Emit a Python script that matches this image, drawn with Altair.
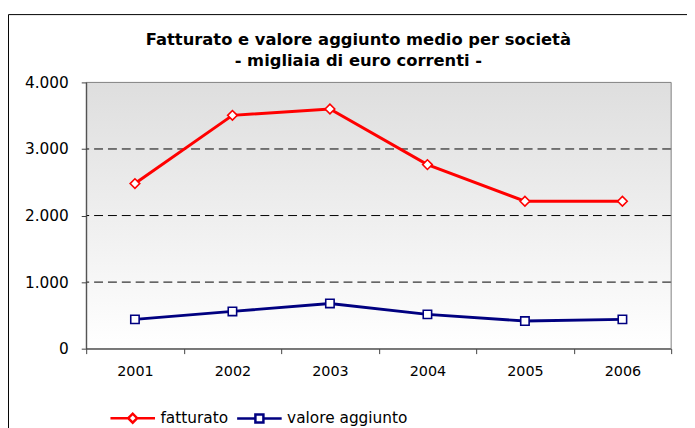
import altair as alt
import pandas as pd

# ---- data ----
years = ["2001", "2002", "2003", "2004", "2005", "2006"]
fatturato = [2480, 3505, 3600, 2765, 2215, 2215]
valore_aggiunto = [440, 560, 680, 515, 415, 440]
series_names = ["fatturato", "valore aggiunto"]
series_colors = ["#ff0000", "#000080"]
marker_shapes = ["diamond", "square"]
marker_sizes = [95, 72]
legend_shapes = [
    "M-1,0H-0.2M0.2,0H1M-0.2,0L0,-0.2L0.2,0L0,0.2Z",
    "M-1,0H-0.18M0.18,0H1M-0.18,-0.18H0.18V0.18H-0.18Z",
]
y_ticks = [0, 1000, 2000, 3000, 4000]
grid_values = [1000, 2000, 3000]
title_lines = ["Fatturato e valore aggiunto medio per società",
               "- migliaia di euro correnti -"]

rows = []
for name, vals in zip(series_names, [fatturato, valore_aggiunto]):
    for yr, v in zip(years, vals):
        rows.append({"anno": yr, "serie": name, "valore": v})
df = pd.DataFrame(rows)

FONT = "DejaVu Sans"
x_scale = alt.Scale(type="band", domain=years, paddingInner=0, paddingOuter=0)
y_scale = alt.Scale(domain=[0, 4000], nice=False)
color_scale = alt.Scale(domain=series_names, range=series_colors)

x_axis = alt.Axis(title=None, labelAngle=0, labelFont=FONT, labelFontSize=14.5,
                  labelColor="black", labelPadding=11, tickBand="extent",
                  tickSize=5, tickColor="#404040", domainColor="#404040",
                  grid=False, zindex=1)
y_axis = alt.Axis(title=None, values=y_ticks, labelFont=FONT, labelFontSize=15.5,
                  labelColor="black", labelPadding=13, tickSize=5,
                  tickColor="#404040", domainColor="#404040", grid=False,
                  labelExpr="replace(format(datum.value, ','), ',', '.')",
                  zindex=1)

one = alt.Data(values=[{"k": 1}])

bg = alt.Chart(one).mark_rect(
    fill=alt.Gradient(gradient="linear", x1=0, y1=0, x2=0, y2=1,
                      stops=[alt.GradientStop(color="#dedede", offset=0),
                             alt.GradientStop(color="#ffffff", offset=1)])
).encode(x=alt.value(0), x2=alt.value("width"), y=alt.value(0), y2=alt.value("height"))

border = alt.Chart(one).mark_rect(fill="transparent", stroke="#808080", strokeWidth=1).encode(
    x=alt.value(0), x2=alt.value("width"), y=alt.value(0), y2=alt.value("height"))

grid = alt.Chart(pd.DataFrame({"valore": grid_values})).mark_rule(
    color="black", strokeDash=[9, 5], strokeWidth=1
).encode(y=alt.Y("valore:Q", scale=y_scale, axis=y_axis))

base = alt.Chart(df)
xy = dict(x=alt.X("anno:O", scale=x_scale, axis=x_axis),
          y=alt.Y("valore:Q", scale=y_scale, axis=y_axis))

series_layers = []
for name, col in zip(series_names, series_colors):
    series_layers.append(
        base.transform_filter(alt.datum.serie == name)
        .mark_line(strokeWidth=3, color=col).encode(**xy))
for name, col, shp, sz in zip(series_names, series_colors, marker_shapes, marker_sizes):
    series_layers.append(
        base.transform_filter(alt.datum.serie == name)
        .mark_point(shape=shp, filled=False, fill="white", stroke=col,
                    size=sz, strokeWidth=1.6, opacity=1).encode(**xy))

leg_params = dict(orient="none", legendX=23, legendY=315, direction="horizontal",
                  title=None, symbolSize=2025, symbolStrokeWidth=2.5,
                  labelFont=FONT, labelFontSize=15.5, labelColor="black",
                  labelOffset=4, columnPadding=3, padding=0)

# legend-only layer: its marks sit below the visible range and are clipped away
legend_layer = base.transform_calculate(fuori="-1000").mark_point(
    filled=False, fill="white", strokeWidth=2.5, clip=True, opacity=1
).encode(
    x=alt.X("anno:O", scale=x_scale, axis=x_axis),
    y=alt.Y("fuori:Q", scale=y_scale, axis=y_axis),
    color=alt.Color("serie:N", scale=color_scale, legend=alt.Legend(**leg_params)),
    shape=alt.Shape("serie:N", scale=alt.Scale(domain=series_names, range=legend_shapes),
                    legend=alt.Legend(**leg_params)),
)

frame_left = alt.Chart(one).mark_rule(color="black", strokeWidth=1).encode(
    x=alt.value(-78.5), y=alt.value(-68.5), y2=alt.value(400))
frame_top = alt.Chart(one).mark_rule(color="black", strokeWidth=1).encode(
    x=alt.value(-78.5), x2=alt.value(700), y=alt.value(-68.5))

chart = alt.layer(bg, grid, border, *series_layers, legend_layer, frame_left, frame_top).properties(
    width=591, height=269,
    padding={"left": 79, "top": 73, "right": 16, "bottom": 80},
    autosize=alt.AutoSizeParams(type="none"),
    title=alt.TitleParams(text=title_lines, font=FONT, fontSize=16.5, fontWeight="bold",
                          color="black", anchor="middle", frame="group", dx=-20.5,
                          offset=-72, baseline="bottom", lineHeight=21),
    background="white",
).configure_view(stroke=None)

chart.save("out.html", embed_options={"renderer": "svg", "actions": False})
